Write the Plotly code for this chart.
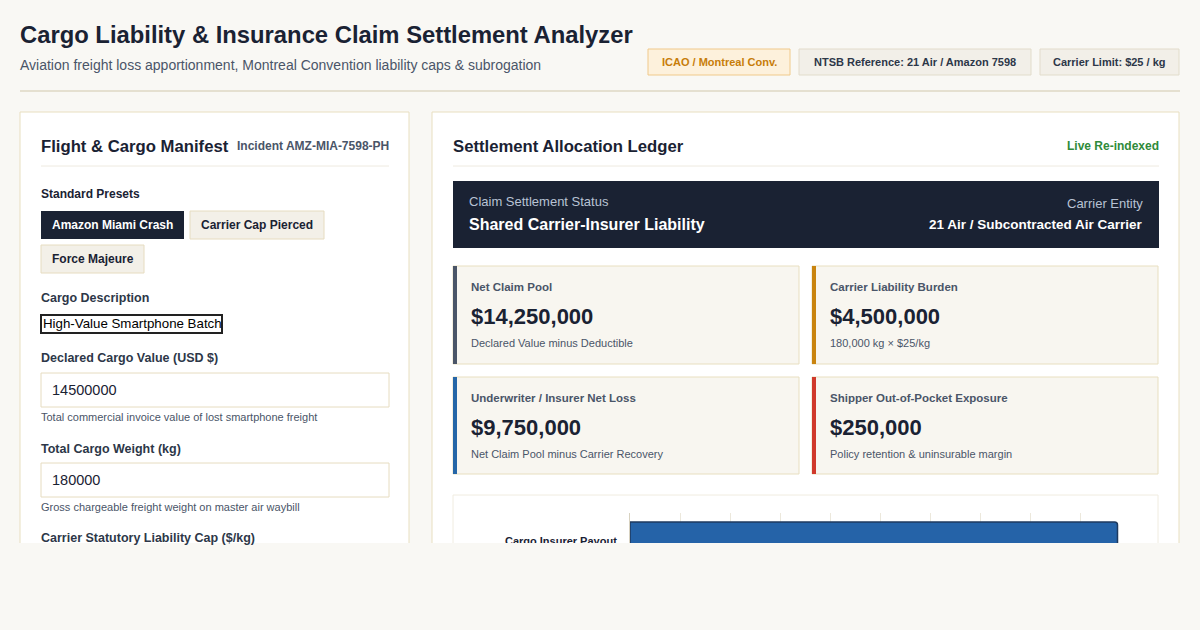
import plotly.graph_objects as go

W, H = 1200, 630
chart_categories = ["Cargo Insurer Payout", "Carrier Liability Burden", "Shipper Retention"]
chart_values = [9750000, 4500000, 250000]
card_titles = ["Net Claim Pool", "Carrier Liability Burden", "Underwriter / Insurer Net Loss", "Shipper Out-of-Pocket Exposure"]
card_values = ["$14,250,000", "$4,500,000", "$9,750,000", "$250,000"]
card_notes = ["Declared Value minus Deductible", "180,000 kg × $25/kg", "Net Claim Pool minus Carrier Recovery", "Policy retention & uninsurable margin"]
badges = ["ICAO / Montreal Conv.", "NTSB Reference: 21 Air / Amazon 7598", "Carrier Limit: $25 / kg"]
presets = ["Amazon Miami Crash", "Carrier Cap Pierced", "Force Majeure"]

BG = "#f9f8f4"
DARK = "#1a2233"
FONT = "Liberation Sans"

def px(x): return x / W
def py(y): return 1 - y / H

shapes, anns = [], []

def rect(x0, y0, x1, y1, fill, line=None, lw=1, layer="below"):
    shapes.append(dict(type="rect", xref="paper", yref="paper", x0=px(x0), x1=px(x1), y0=py(y1), y1=py(y0),
                       fillcolor=fill, line=dict(color=line or fill, width=lw if line else 0), layer=layer))

def hline(x0, x1, y, color, w=1):
    shapes.append(dict(type="line", xref="paper", yref="paper", x0=px(x0), x1=px(x1), y0=py(y), y1=py(y),
                       line=dict(color=color, width=w), layer="below"))

def text(x, y, s, size, color, bold=False, anchor="left"):
    if anchor == "left":
        x -= 2
    elif anchor == "right":
        x += 2
    anns.append(dict(xref="paper", yref="paper", x=px(x), y=py(y), text=f"<b>{s}</b>" if bold else s,
                     showarrow=False, xanchor=anchor, yanchor="middle",
                     font=dict(family=FONT, size=size, color=color)))

# header
text(20, 34, "Cargo Liability & Insurance Claim Settlement Analyzer", 23.8, DARK, True)
text(20, 65, "Aviation freight loss apportionment, Montreal Convention liability caps & subrogation", 14, "#4a5568")
bx = [(648, 790, "#fdf1dc", "#f0c98a", "#c77d0a"), (799, 1031, "#f2efe8", "#e2dccb", "#2d3748"), (1040, 1179, "#f2efe8", "#e2dccb", "#2d3748")]
for (x0, x1, f, l, c), s in zip(bx, badges):
    rect(x0, 49, x1, 75, f, l)
    text((x0 + x1) / 2, 62, s, 11, c, True, "center")
hline(20, 1180, 91, "#e5e0d0", 2)

# panels
rect(20, 112, 409, 700, "white", "#e8dfc0")
rect(432, 112, 1179, 700, "white", "#e8dfc0")

# left panel
text(41, 146, "Flight & Cargo Manifest", 16.7, DARK, True)
text(389, 146, "Incident AMZ-MIA-7598-PH", 12, "#4a5568", True, "right")
hline(41, 389, 166, "#eeeae0")
text(41, 194, "Standard Presets", 12, DARK, True)
for (x0, y0, x1, y1), s, i in zip([(41, 211, 184, 239), (190, 211, 324, 239), (41, 245, 144, 273)], presets, range(3)):
    if i == 0:
        rect(x0, y0, x1, y1, DARK)
        text((x0 + x1) / 2, (y0 + y1) / 2, s, 12, "white", True, "center")
    else:
        rect(x0, y0, x1, y1, "#f3f0e8", "#e6dcc0")
        text((x0 + x1) / 2, (y0 + y1) / 2, s, 12, DARK, True, "center")
text(41, 298, "Cargo Description", 12.5, "#2d3748", True)
rect(41, 315, 222, 333, "white", "#222222", 2)
text(43, 324, "High-Value Smartphone Batch", 13.3, "black")
text(41, 358, "Declared Cargo Value (USD $)", 12.5, "#2d3748", True)
rect(41, 373, 389, 407, "white", "#e6dcc0")
text(52, 390, "14500000", 14.5, DARK)
text(41, 417, "Total commercial invoice value of lost smartphone freight", 11, "#4a5568")
text(41, 449, "Total Cargo Weight (kg)", 12.5, "#2d3748", True)
rect(41, 463, 389, 497, "white", "#e6dcc0")
text(52, 480, "180000", 14.5, DARK)
text(41, 507, "Gross chargeable freight weight on master air waybill", 11, "#4a5568")
text(41, 538, "Carrier Statutory Liability Cap ($/kg)", 12.5, "#2d3748", True)

# right panel
text(453, 146, "Settlement Allocation Ledger", 16.7, DARK, True)
text(1159, 146, "Live Re-indexed", 12, "#2f8a3a", True, "right")
hline(453, 1159, 166, "#eeeae0")
rect(453, 181, 1159, 248, DARK)
text(469, 202, "Claim Settlement Status", 13, "#b8c2d4")
text(469, 224, "Shared Carrier-Insurer Liability", 16, "white", True)
text(1143, 204, "Carrier Entity", 13, "#b8c2d4", False, "right")
text(1143, 224, "21 Air / Subcontracted Air Carrier", 13.5, "white", True, "right")
accents = ["#4a5568", "#c9840f", "#2566a8", "#d0392b"]
pos = [(453, 266, 799, 364), (812, 266, 1158, 364), (453, 377, 799, 474), (812, 377, 1158, 474)]
for (x0, y0, x1, y1), t, v, n, a in zip(pos, card_titles, card_values, card_notes, accents):
    rect(x0, y0, x1, y1, "#f8f6f0", "#e8dfc0")
    rect(x0, y0, x0 + 4, y1, a)
    text(x0 + 18, y0 + 21, t, 11.5, "#4a5568", True)
    text(x0 + 18, y0 + 50, v, 22, DARK, True)
    text(x0 + 18, y0 + 77, n, 11, "#4a5568")
rect(453, 495, 1158, 700, "white", "#f0ece0")

# clip cover
rect(0, 543, 1200, 630, BG, layer="above")

fig = go.Figure(go.Bar(y=chart_categories, x=chart_values, orientation="h", width=0.95,
                       marker=dict(color="#2563a8", line=dict(color="#1e3a5f", width=1.5))))
fig.update_layout(
    width=W, height=H, margin=dict(l=0, r=0, t=0, b=0),
    paper_bgcolor=BG, plot_bgcolor="white", showlegend=False,
    shapes=shapes, annotations=anns,
    barcornerradius=3,
    xaxis=dict(domain=[px(630), px(1130)], range=[0, 10000000], dtick=1000000, showgrid=True,
               gridcolor="#ece8dc", showticklabels=False, zeroline=False, fixedrange=True),
    yaxis=dict(domain=[0, py(513)], range=[2.2, -0.7], type="category", showgrid=False,
               showline=True, linecolor="#d8d2c0", ticks="", ticklabelstandoff=10,
               tickvals=[chart_categories[0]], ticktext=[chart_categories[0]],
               tickfont=dict(family=FONT, size=11, color=DARK, weight="bold"), zeroline=False),
)
fig.write_html("out.html", config={"displayModeBar": False},
               post_script="document.body.style.margin='0';document.body.style.overflow='hidden';")
